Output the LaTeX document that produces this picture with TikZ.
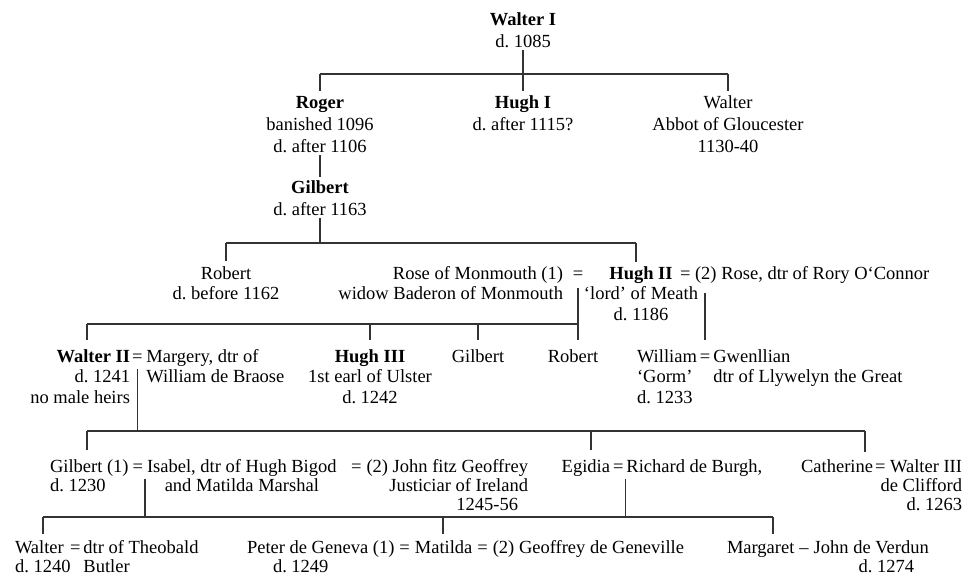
\documentclass[tikz,border=0pt]{standalone}
\usepackage{fontspec}
\setmainfont{Liberation Serif}
\frenchspacing
\begin{document}
\begin{tikzpicture}[x=1pt,y=-1pt,
  every node/.style={inner sep=0pt, outer sep=0pt, font=\fontsize{18.5}{20.5}\selectfont\frenchspacing},
  lbl/.style={anchor=north, align=center},
  lbll/.style={anchor=north west, align=left},
  lblr/.style={anchor=north east, align=right},
  eqs/.style={anchor=north west},
  tie/.style={line width=1.3pt, draw=black!80}]
\fill[white] (0,0) rectangle (979,578);
\useasboundingbox (0,0) rectangle (979,578);
% level coordinates
\coordinate (y1) at (0,74);
\coordinate (y2) at (0,243);
\coordinate (y3) at (0,324);
\coordinate (y4) at (0,431);
\coordinate (y5) at (0,517);
% ---- generation 0 and 1
\node[lbl] (wI) at (523,11) {\strut\textbf{Walter I}\\[1.5pt]d. 1085};
\node[lbl] (roger) at (320,94) {\strut\textbf{Roger}\\[1.5pt]banished 1096\\[1.5pt]d. after 1106};
\node[lbl] (hughI) at (523,94) {\strut\textbf{Hugh I}\\[1.5pt]d. after 1115?};
\node[lbl] (walterA) at (728,94) {\strut Walter\\[1.5pt]Abbot of Gloucester\\[1.5pt]1130-40};
\node[lbl] (gilbert) at (320,179) {\strut\textbf{Gilbert}\\[1.5pt]d. after 1163};
% ---- generation 2
\node[lbl] (robert) at (226,265) {\strut Robert\\d. before 1162};
\node[lblr] (rose) at (563,265) {\strut Rose of Monmouth (1)\\widow Baderon of Monmouth};
\node[anchor=north] (eqA) at (578,265) {\strut=};
\node[lbl] (hughII) at (641,265) {\strut\textbf{Hugh II}\\`lord' of Meath\\d. 1186};
\node[lbll] (rose2) at (680,265) {\strut= (2) Rose, dtr of Rory O`Connor};
% ---- generation 3
\node[lblr] (walterII) at (130,348) {\strut\textbf{Walter II}\\d. 1241\hspace*{15pt}\\no male heirs};
\node[eqs] (eqB) at ([xshift=2pt]walterII.north east) {\strut=};
\node[lbll] (margery) at ([xshift=4pt]eqB.north east) {\strut Margery, dtr of\\William de Braose};
\node[lbl] (hughIII) at (370,348) {\strut\textbf{Hugh III}\\1st earl of Ulster\\d. 1242};
\node[lbl] (gilbertB) at (478,348) {\strut Gilbert};
\node[lbl] (robertB) at (573,348) {\strut Robert};
\node[lbll] (william) at (637,348) {\strut William\\`Gorm'\\d. 1233};
\node[eqs] (eqC) at ([xshift=3pt]william.north east) {\strut=};
\node[lbll] (gwen) at ([xshift=3pt]eqC.north east) {\strut Gwenllian\\dtr of Llywelyn the Great};
% ---- generation 4
\node[lbll] (gilbertC) at (50,458) {\strut Gilbert (1)\\[-1.5pt]d. 1230};
\node[eqs] (eqD) at ([xshift=4pt]gilbertC.north east) {\strut=};
\node[anchor=north west, align=center] (isabel) at ([xshift=4pt]eqD.north east) {\strut Isabel, dtr of Hugh Bigod\\[-1.5pt]and Matilda Marshal};
\node[lblr] (john) at (528,458) {\strut(2) John fitz Geoffrey\\[-1.5pt]Justiciar of Ireland\\[-1.5pt]1245-56\hspace*{10pt}};
\node[anchor=north east] (eqE) at ([xshift=-5pt]john.north west) {\strut=};
\node[anchor=north east] (egidia) at (610,458) {\strut Egidia};
\node[eqs] (eqF) at ([xshift=3pt]egidia.north east) {\strut=};
\node[lbll] (richard) at ([xshift=3pt]eqF.north east) {\strut Richard de Burgh,};
\node[anchor=north east] (catherine) at (873,458) {\strut Catherine};
\node[eqs] (eqG) at ([xshift=2pt]catherine.north east) {\strut=};
\node[lblr] (walterIII) at (962,458) {\strut Walter III\\[-1.5pt]de Clifford\\[-1.5pt]d. 1263};
% ---- generation 5
\node[lbll] (walterD) at (15,539) {\strut Walter\\[-1.5pt]d. 1240};
\node[eqs] (eqH) at (70,539) {\strut=};
\node[lbll] (theobald) at ([xshift=3pt]eqH.north east) {\strut dtr of Theobald\\[-1.5pt]Butler};
\node[lbll] (peter) at (247,539) {\strut Peter de Geneva (1)\\[-1.5pt]\hspace*{26pt}d. 1249};
\node[eqs] (eqI) at ([xshift=5pt]peter.north east) {\strut=};
\node[eqs] (matilda) at ([xshift=5pt]eqI.north east) {\strut Matilda};
\node[eqs] (eqJ) at ([xshift=5pt]matilda.north east) {\strut=};
\node[eqs] (geoffrey) at ([xshift=5pt]eqJ.north east) {\strut(2) Geoffrey de Geneville};
\node[eqs] (margaret) at (727,539) {\strut Margaret};
\node[eqs] (dash) at ([xshift=5pt]margaret.north east) {\strut--};
\node[anchor=north west, align=center] (verdun) at ([xshift=5pt]dash.north east) {\strut John de Verdun\\[-1.5pt]\hspace*{30pt}d. 1274};
% ---- connectors
\coordinate (d2r) at (636,243);
\coordinate (d3l) at (87,324);
\coordinate (d4l) at (87,431);
\coordinate (d4m) at (591,431);
\coordinate (d4r) at (865,431);
\coordinate (d5l) at (43,517);
\coordinate (d5m) at (443,517);
\coordinate (d5r) at (773,517);
\begin{scope}[tie]
% Walter I's children
\draw[shorten <=2pt] (wI.south) -- (wI.south |- y1);
\draw (roger.north |- y1) -- (walterA.north |- y1);
\draw[shorten >=3pt] (roger.north |- y1) -- (roger.north);
\draw[shorten >=3pt] (hughI.north |- y1) -- (hughI.north);
\draw[shorten >=3pt] (walterA.north |- y1) -- (walterA.north);
\draw[shorten <=2.5pt,shorten >=2pt] (roger.south) -- (gilbert.north);
% Gilbert's children
\draw[shorten <=2.5pt] (gilbert.south) -- (gilbert.south |- y2);
\draw (robert.north |- y2) -- (d2r);
\draw[shorten >=4pt] (robert.north |- y2) -- (robert.north);
\draw[shorten >=3pt] (d2r) -- (d2r |- hughII.north);
% Hugh II and Rose of Monmouth
\draw[shorten <=2pt] (eqA.south) -- (eqA.south |- y3);
\draw (d3l) -- (eqA.south |- y3);
\draw[shorten >=8pt] (eqA.south |- y3) -- (eqA.south |- robertB.north);
\draw[shorten >=8pt] (d3l) -- (d3l |- walterII.north);
\draw[shorten >=8pt] (hughIII.north |- y3) -- (hughIII.north);
\draw[shorten >=8pt] (gilbertB.north |- y3) -- (gilbertB.north);
% Hugh II and Rose O'Connor
\draw[shorten <=7pt,shorten >=8pt] (eqC.north |- rose2.south) -- (eqC.north);
% Walter II and Margery
\draw (eqB.south) -- (eqB.south |- y4);
\draw (d4l) -- (d4r);
\draw[shorten >=8pt] (d4l) -- (d4l |- gilbertC.north);
\draw[shorten >=8pt] (d4m) -- (d4m |- egidia.north);
\draw[shorten >=6pt] (d4r) -- (d4r |- catherine.north);
% Gilbert and Isabel; Egidia and Richard
\draw ([xshift=2pt]eqD.south east) -- ([xshift=2pt]eqD.south east |- y5);
\draw ([xshift=2pt]eqF.south east) -- ([xshift=2pt]eqF.south east |- y5);
\draw (d5l) -- (d5r);
\draw[shorten >=5pt] (d5l) -- (d5l |- walterD.north);
\draw[shorten >=5pt] (d5m) -- (d5m |- matilda.north);
\draw[shorten >=5pt] (d5r) -- (d5r |- margaret.north);
\end{scope}
\end{tikzpicture}
\end{document}
